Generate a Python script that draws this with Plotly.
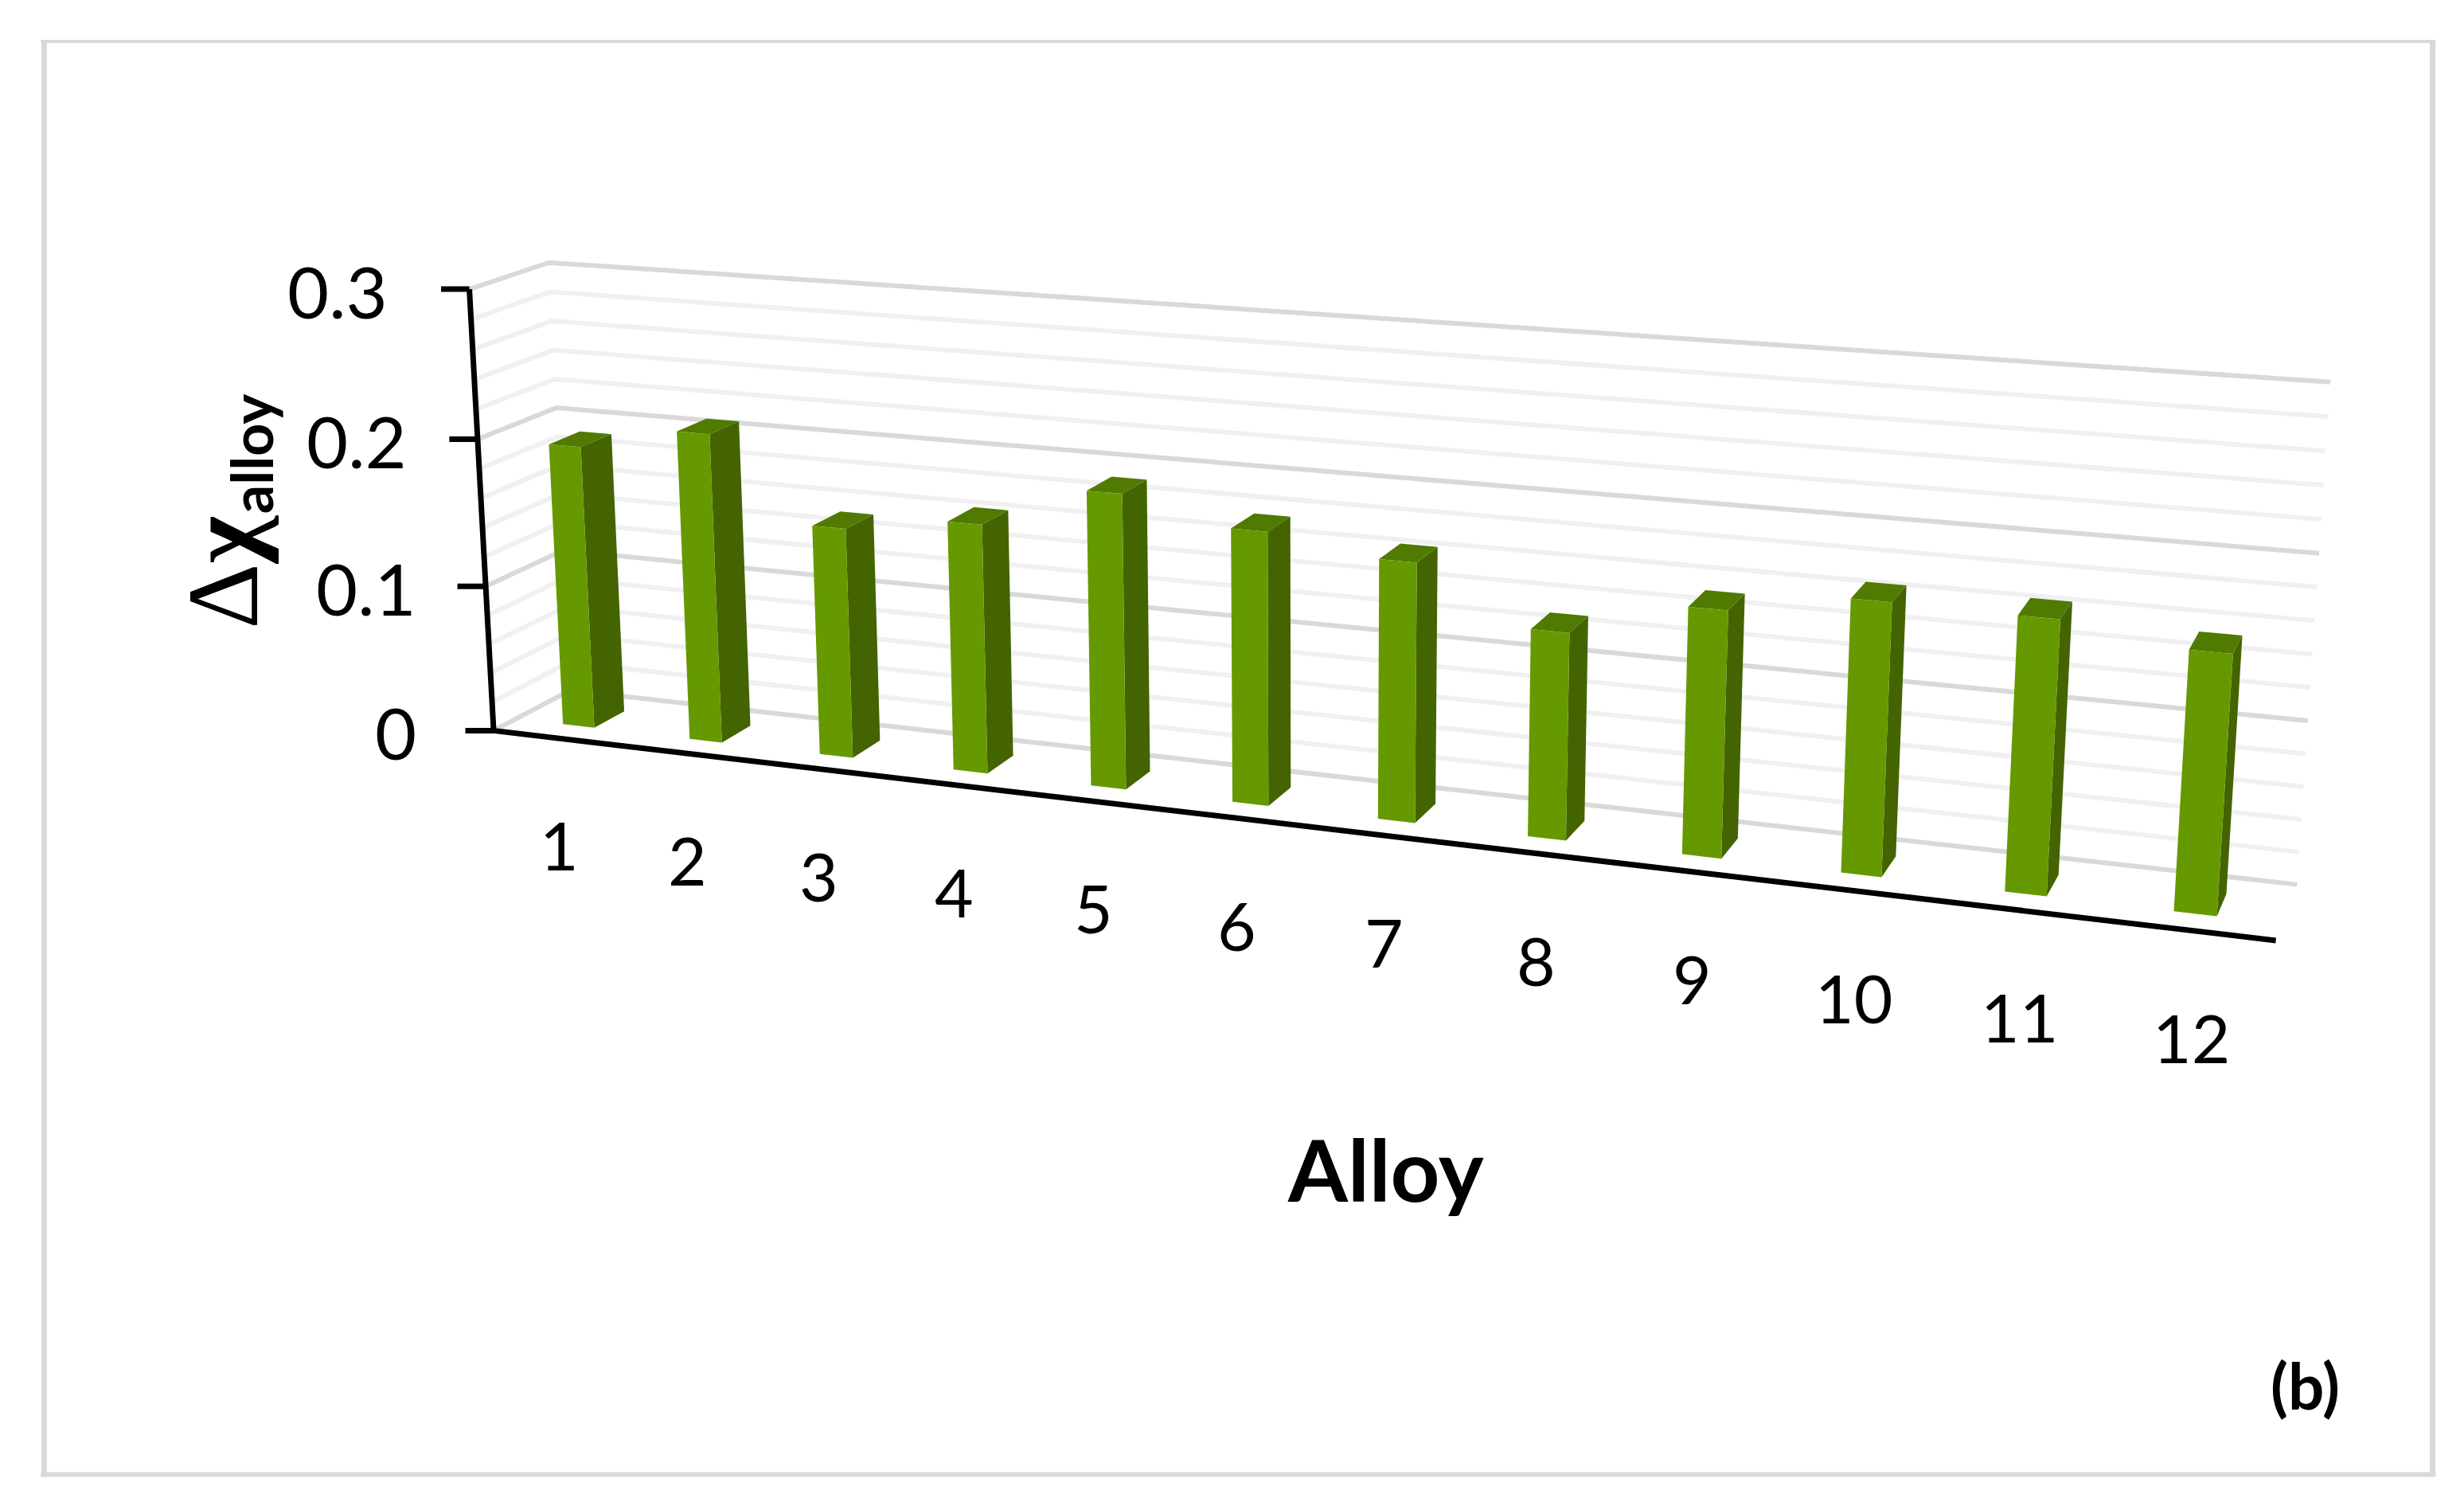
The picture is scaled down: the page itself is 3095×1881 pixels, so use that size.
import numpy as np
import plotly.graph_objects as go

# ---- data ----
alloys = [str(i) for i in range(1, 13)]
delta_chi = [0.193, 0.209, 0.154, 0.165, 0.193, 0.177, 0.166, 0.131, 0.154, 0.168, 0.167, 0.156]
major_ticks = [0, 0.1, 0.2, 0.3]
tick_labels = ["0", "0.1", "0.2", "0.3"]
grid_levels = [0.02 * i for i in range(16)]

# ---- the 3-D view: world (category, depth, value) <-> picture, fitted as a pinhole camera ----
X0, X1, ZT = 0.5, 12.5, 0.3
world_refs = [(X0, 0, ZT), (X0, 0, 0), (X1, 0, 0), (X0, 1, ZT), (X0, 1, 0), (X1, 1, ZT), (X1, 1, 0)]
view_refs = [(298, 183), (315, 466), (1448, 598), (350, 168), (362, 438), (1483, 243), (1462, 563)]
A = []
for (wx, wy, wz), (u, v) in zip(world_refs, view_refs):
    A.append([wx, wy, wz * 40, 1, 0, 0, 0, 0, -u * wx, -u * wy, -u * wz * 40, -u])
    A.append([0, 0, 0, 0, wx, wy, wz * 40, 1, -v * wx, -v * wy, -v * wz * 40, -v])
P = np.linalg.svd(np.array(A, float))[2][-1].reshape(3, 4)


def project(x, y, z):
    h = P @ np.array([x, y, z * 40, 1.0])
    return h[0] / h[2], h[1] / h[2]


BAR_W = 0.25
BAR_Y0, BAR_Y1 = 0.29, 0.69
FRONT, SIDE, TOP = "#669900", "#436400", "#507a00"
GRID_MAJOR, GRID_MINOR = "#d9d9d9", "#f0f0f0"
FRAME = "#d9d9d9"
TEXT = "#000000"
FONT = "Lato"

fig = go.Figure()

# gridlines on the side wall and the back wall
for lvl in grid_levels:
    is_major = any(abs(lvl - m) < 1e-9 for m in major_ticks)
    pts = [project(X0, 0, lvl), project(X0, 1, lvl), project(X1, 1, lvl)]
    fig.add_trace(go.Scatter(x=[p[0] for p in pts], y=[p[1] for p in pts], mode="lines",
                             line=dict(color=GRID_MAJOR if is_major else GRID_MINOR, width=6),
                             hoverinfo="skip"))


def faces(corner_fn):
    xs, ys = [], []
    for n, v in enumerate(delta_chi):
        for c in corner_fn(n + 1, v):
            p = project(*c)
            xs.append(p[0]); ys.append(p[1])
        xs.append(None); ys.append(None)
    return xs, ys


def front_face(c, v):
    a, b = c - BAR_W / 2, c + BAR_W / 2
    return [(a, BAR_Y0, 0), (b, BAR_Y0, 0), (b, BAR_Y0, v), (a, BAR_Y0, v)]


def side_face(c, v):
    b = c + BAR_W / 2
    return [(b, BAR_Y0, 0), (b, BAR_Y1, 0), (b, BAR_Y1, v), (b, BAR_Y0, v)]


def top_face(c, v):
    a, b = c - BAR_W / 2, c + BAR_W / 2
    return [(a, BAR_Y0, v), (b, BAR_Y0, v), (b, BAR_Y1, v), (a, BAR_Y1, v)]


for fn, col in [(side_face, SIDE), (top_face, TOP), (front_face, FRONT)]:
    xs, ys = faces(fn)
    fig.add_trace(go.Scatter(x=xs, y=ys, mode="lines", fill="toself", fillcolor=col,
                             line=dict(width=0, color=col), hoverinfo="skip"))

# axes
pts = [project(X0, 0, ZT), project(X0, 0, 0), project(X1, 0, 0)]
fig.add_trace(go.Scatter(x=[p[0] for p in pts], y=[p[1] for p in pts], mode="lines",
                         line=dict(color="black", width=7), hoverinfo="skip"))
annots = []
TICK_LEN = 18
label_gaps = [48, 43, 44, 51]
for m, lab, gap in zip(major_ticks, tick_labels, label_gaps):
    px, py = project(X0, 0, m)
    fig.add_trace(go.Scatter(x=[px - TICK_LEN, px], y=[py, py], mode="lines",
                             line=dict(color="black", width=7), hoverinfo="skip"))
    annots.append(dict(x=px - gap, y=py + 1, text=lab, xanchor="right", yanchor="middle", xref="x", yref="y",
                       showarrow=False, font=dict(size=90, color=TEXT, family=FONT)))

for n, lab in enumerate(alloys):
    px, py = project(n + 1, 0, 0)
    annots.append(dict(x=px + 2, y=py + 68, text=lab, xanchor="center", yanchor="middle", xref="x", yref="y",
                       showarrow=False, font=dict(size=84, color=TEXT, family=FONT)))

annots += [
    dict(x=882, y=743, text="<b>Alloy</b>", xref="x", yref="y", showarrow=False,
         font=dict(size=108, color=TEXT, family=FONT)),
    dict(x=142, y=364, text="Δ<b>χ</b>", textangle=-90, xref="x", yref="y", showarrow=False,
         font=dict(size=128, color=TEXT, family="Liberation Serif")),
    dict(x=160, y=289, text="<b>alloy</b>", textangle=-90, xref="x", yref="y", showarrow=False,
         font=dict(size=72, color=TEXT, family=FONT)),
    dict(x=1467, y=881, text="<b>(b)</b>", xref="x", yref="y", showarrow=False,
         font=dict(size=80, color=TEXT, family=FONT)),
]


def frame_side(x0, y0, x1, y1, w):
    return dict(type="line", xref="x", yref="y", x0=x0, y0=y0, x1=x1, y1=y1,
                line=dict(color=FRAME, width=w), layer="below")


fig.update_layout(
    width=3095, height=1881, paper_bgcolor="white", plot_bgcolor="white",
    margin=dict(l=0, r=0, t=0, b=0), showlegend=False,
    xaxis=dict(visible=False, range=[0, 1568], fixedrange=True),
    yaxis=dict(visible=False, range=[953, 0], fixedrange=True),
    shapes=[frame_side(28.1, 25.5, 28.1, 939.5, 7), frame_side(26, 26.3, 1550, 26.3, 4),
            frame_side(1548, 25.5, 1548, 939.5, 7), frame_side(26, 938, 1550, 938, 6)],
    annotations=annots,
)
fig.write_html("out.html", config=dict(displayModeBar=False),
               post_script="document.body.style.margin='0';document.body.style.overflow='hidden';")
